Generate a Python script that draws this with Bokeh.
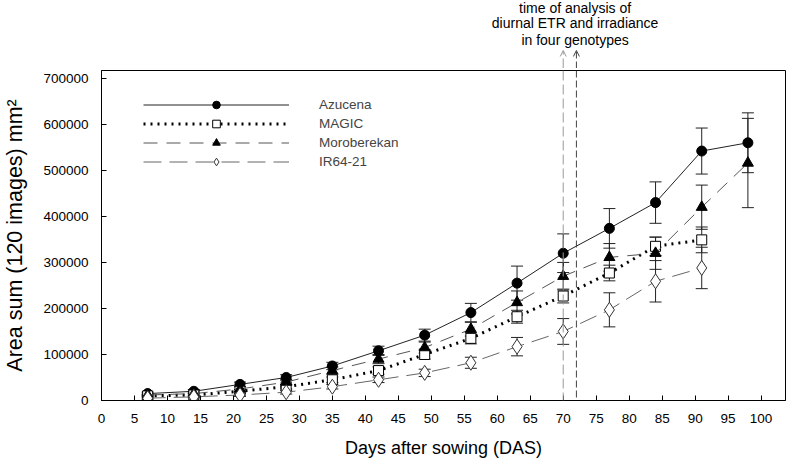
from bokeh.plotting import figure
from bokeh.layouts import column
from bokeh.models import (ColumnDataSource, Whisker, TeeHead, Legend, LegendItem,
                          SingleIntervalTicker, BasicTickFormatter, Range1d, Arrow,
                          OpenHead, Span)
from bokeh.core.properties import value
from bokeh.embed import file_html
from bokeh.resources import INLINE

# ---------------- data ----------------
das_long = [7, 14, 21, 28, 35, 42, 49, 56, 63, 70, 77, 84, 91, 98]
das_short = [7, 14, 21, 28, 35, 42, 49, 56, 63, 70, 77, 84, 91]

azucena = [15000, 20000, 35000, 50000, 75000, 108000, 142000, 191000, 255000, 320000, 374000, 430000, 542000, 560000]
azucena_err = [3000, 4000, 5000, 6000, 8000, 10000, 13000, 20000, 37000, 42000, 43000, 45000, 50000, 65000]

magic = [10000, 12000, 20000, 30000, 45000, 65000, 100000, 135000, 182000, 227000, 277000, 335000, 349000]
magic_err = [2000, 3000, 4000, 5000, 6000, 8000, 10000, 12000, 14000, 15000, 17000, 20000, 28000]

moroberekan = [12000, 15000, 25000, 40000, 65000, 90000, 115000, 155000, 213000, 270000, 311000, 320000, 420000, 516000]
moroberekan_err = [2000, 3000, 5000, 6000, 8000, 10000, 12000, 15000, 25000, 30000, 30000, 35000, 48000, 97000]

ir64 = [5000, 8000, 12000, 18000, 30000, 45000, 60000, 82000, 117000, 150000, 197000, 259000, 288000]
ir64_err = [2000, 2000, 3000, 4000, 5000, 6000, 8000, 12000, 20000, 28000, 37000, 45000, 45000]

analysis_days = [70, 72]
annotation_lines = ["time of analysis of", "diurnal ETR and irradiance", "in four genotypes"]
annotation_x = 71.8

FONT = "Liberation Sans"

x_range = Range1d(0, 103.7)

# ---------- top strip: annotation text and arrow tips ----------
top = figure(width=789, height=68, output_backend="svg", toolbar_location=None,
             x_range=x_range, y_range=Range1d(0, 1),
             x_axis_location=None, y_axis_location=None,
             min_border_left=87, min_border_right=4, min_border_top=0, min_border_bottom=0)
top.grid.visible = False
top.outline_line_color = None
top.text(x=[annotation_x] * 3, y=[0.897, 0.662, 0.426], text=annotation_lines,
         text_align="center", text_baseline="middle", text_font=value(FONT),
         text_font_size="14px", text_color="black")

dash_styles = [dict(line_color="#999999", line_dash="10 4"),
               dict(line_color="#444444", line_dash="7 3")]
for d, st in zip(analysis_days, dash_styles):
    top.add_layout(Arrow(x_start=d, y_start=0, x_end=d, y_end=0.265, line_width=1, **st,
                         end=OpenHead(size=6, line_color=st["line_color"], line_width=1)))

# ---------- main plot ----------
p = figure(width=789, height=392, output_backend="svg", toolbar_location=None,
           x_range=x_range, y_range=Range1d(0, 717000),
           min_border_left=87, min_border_right=4, min_border_top=2, min_border_bottom=59)
p.grid.visible = False
p.outline_line_color = "black"
p.outline_line_width = 1

p.xaxis.ticker = SingleIntervalTicker(interval=5)
p.yaxis.ticker = SingleIntervalTicker(interval=100000)
p.yaxis.formatter = BasicTickFormatter(use_scientific=False)
for ax in (p.xaxis, p.yaxis):
    ax.major_tick_in = 5
    ax.major_tick_out = 0
    ax.minor_tick_line_color = None
    ax.axis_line_color = "black"
    ax.major_tick_line_color = "black"
    ax.major_label_text_font = FONT
    ax.major_label_text_font_size = "13.5px"
    ax.major_label_text_color = "black"
    ax.axis_label_text_font = FONT
    ax.axis_label_text_font_style = "normal"
    ax.axis_label_text_color = "black"
p.xaxis.major_label_standoff = 9
p.yaxis.major_label_standoff = 9
p.xaxis.axis_label = "Days after sowing (DAS)"
p.xaxis.axis_label_text_font_size = "18px"
p.xaxis.axis_label_standoff = 12
p.yaxis.axis_label = "Area sum (120 images) mm\u00b2"
p.yaxis.axis_label_text_font_size = "21.5px"
p.yaxis.axis_label_standoff = 13

for d, st in zip(analysis_days, dash_styles):
    p.add_layout(Span(location=d, dimension="height", line_width=1, **st))

series = [
    ("Azucena", das_long, azucena, azucena_err,
     dict(line_color="#222222", line_width=1, line_dash="solid"),
     dict(marker="circle", size=10, fill_color="black", line_color="black")),
    ("MAGIC", das_short, magic, magic_err,
     dict(line_color="black", line_width=3, line_dash="2 5"),
     dict(marker="square", size=10, fill_color="white", line_color="black")),
    ("Moroberekan", das_long, moroberekan, moroberekan_err,
     dict(line_color="#555555", line_width=1, line_dash="14 9"),
     dict(marker="triangle", size=11, fill_color="black", line_color="black")),
    ("IR64-21", das_short, ir64, ir64_err,
     dict(line_color="#666666", line_width=1, line_dash="18 8"),
     dict(marker="diamond", size=15, fill_color="white", line_color="#333333")),
]

items = []
for name, xs, ys, errs, lstyle, mstyle in series:
    src = ColumnDataSource(dict(x=xs, y=ys,
                                upper=[v + e for v, e in zip(ys, errs)],
                                lower=[v - e for v, e in zip(ys, errs)]))
    w = Whisker(base="x", upper="upper", lower="lower", source=src, dimension="height",
                line_color="#222222", line_width=1,
                upper_head=TeeHead(size=12, line_color="#222222", line_width=1),
                lower_head=TeeHead(size=12, line_color="#222222", line_width=1))
    w.level = "underlay"
    p.add_layout(w)
    lr = p.line("x", "y", source=src, **lstyle)
    sr = p.scatter("x", "y", source=src, **mstyle)
    items.append(LegendItem(label=name, renderers=[lr, sr]))

legend = Legend(items=items, location=(42, 229), glyph_width=146, glyph_height=19,
                label_height=19, spacing=0, padding=0, margin=0, label_standoff=30,
                label_text_font=FONT, label_text_font_size="13.5px",
                border_line_color=None, background_fill_alpha=0)
p.add_layout(legend, "center")

layout = column(top, p, spacing=0)
open("out.html", "w").write(file_html(layout, INLINE))
